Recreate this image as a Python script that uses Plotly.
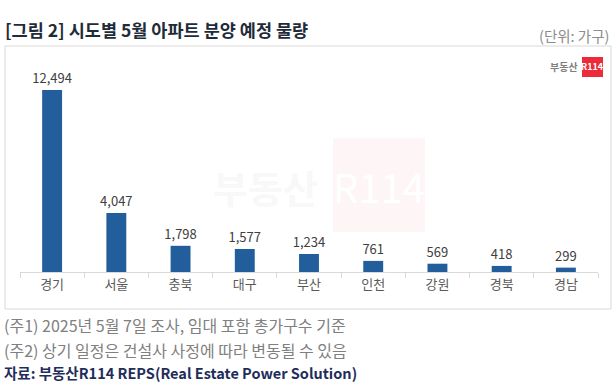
import plotly.graph_objects as go

categories = ["경기", "서울", "충북", "대구", "부산", "인천", "강원", "경북", "경남"]
values = [12494, 4047, 1798, 1577, 1234, 761, 569, 418, 299]

W, H = 616, 385
def px(x): return x / W
def py(y): return (H - y) / H

FONT = "Noto Sans CJK KR"

fig = go.Figure(go.Bar(
    x=categories, y=values, width=0.31,
    marker=dict(color="#215e9b", line=dict(width=0)),
    text=[f"{v:,}" for v in values], textposition="outside",
    textfont=dict(size=13, color="#404040", family=FONT),
    constraintext="none", cliponaxis=False,
))

fig.update_layout(
    width=W, height=H, margin=dict(l=0, r=0, t=0, b=0),
    paper_bgcolor="white", plot_bgcolor="rgba(0,0,0,0)",
    showlegend=False, font=dict(family=FONT),
    xaxis=dict(domain=[px(20), px(598)], showline=True, linecolor="#d9d9d9", linewidth=1,
               ticks="outside", tickson="boundaries", ticklen=5, tickcolor="#d9d9d9",
               tickfont=dict(size=13, color="#595959", family=FONT), showgrid=False),
    yaxis=dict(domain=[py(272), py(68)], range=[0, 14000], visible=False, showgrid=False),
)

shapes = [
    dict(type="rect", xref="paper", yref="paper", x0=px(5), x1=px(611), y0=py(309), y1=py(46),
         line=dict(color="#d9d9d9", width=1), fillcolor="rgba(0,0,0,0)", layer="below"),
    dict(type="rect", xref="paper", yref="paper", x0=px(333), x1=px(425), y0=py(232), y1=py(138),
         line=dict(width=0), fillcolor="#fef5f6", layer="below"),
    dict(type="rect", xref="paper", yref="paper", x0=px(582), x1=px(603), y0=py(77), y1=py(57),
         line=dict(width=0), fillcolor="#ec2a3a", layer="above"),
]
fig.update_layout(shapes=shapes)

ann = [
    dict(text="<b>[그림 2] 시도별 5월 아파트 분양 예정 물량</b>", x=px(3), y=py(29), xanchor="left", yanchor="middle",
         font=dict(size=17.5, color="#1e2b38", family=FONT)),
    dict(text="(단위: 가구)", x=px(611), y=py(35), xanchor="right", yanchor="middle",
         font=dict(size=14.5, color="#8c8c8c", family=FONT)),
    dict(text="<b>부동산</b>", x=px(265), y=py(186), xanchor="center", yanchor="middle",
         font=dict(size=38, color="#f8f8f8", family=FONT)),
    dict(text="R114", x=px(379), y=py(186), xanchor="center", yanchor="middle",
         font=dict(size=40, color="#ffffff", family=FONT)),
    dict(text="<b>부동산</b>", x=px(580), y=py(67), xanchor="right", yanchor="middle",
         font=dict(size=10, color="#7f7f7f", family=FONT)),
    dict(text="<b>R114</b>", x=px(592.5), y=py(67), xanchor="center", yanchor="middle",
         font=dict(size=9, color="#ffffff", family=FONT)),
    dict(text="(주1) 2025년 5월 7일 조사, 임대 포함 총가구수 기준", x=px(2), y=py(325), xanchor="left", yanchor="middle",
         font=dict(size=16, color="#808080", family=FONT)),
    dict(text="(주2) 상기 일정은 건설사 사정에 따라 변동될 수 있음", x=px(2), y=py(350), xanchor="left", yanchor="middle",
         font=dict(size=16, color="#808080", family=FONT)),
    dict(text="<b>자료: 부동산R114 REPS(Real Estate Power Solution)</b>", x=px(2), y=py(372), xanchor="left", yanchor="middle",
         font=dict(size=14.5, color="#1f2d5a", family=FONT)),
]
for a in ann:
    a.update(xref="paper", yref="paper", showarrow=False)
fig.update_layout(annotations=ann)

fig.write_html("out.html", config={"displayModeBar": False},
               post_script="document.body.style.margin='0';document.body.style.overflow='hidden';")
